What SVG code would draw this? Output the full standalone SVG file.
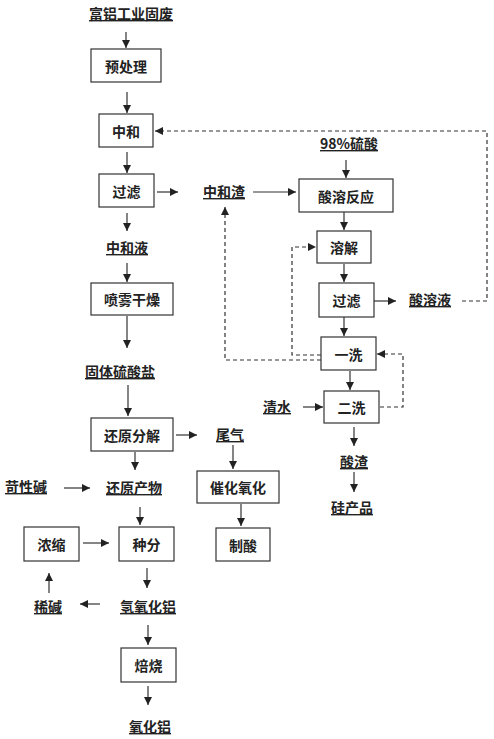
<svg xmlns="http://www.w3.org/2000/svg" width="494" height="739" viewBox="0 0 494 739">
<defs>
<marker id="ah" markerUnits="userSpaceOnUse" markerWidth="8" markerHeight="8" refX="8" refY="4" orient="auto">
<path d="M0,0 L8,4 L0,8 z" fill="#222"/>
</marker>
<style>
text{font-family:"Noto Sans CJK SC","Liberation Sans",sans-serif;font-size:14px;font-weight:bold;fill:#222;text-anchor:middle}
.lbl{text-decoration:underline}
.box rect{fill:#fff;stroke:#333;stroke-width:1.2}
.box text{dominant-baseline:central}
#connectors path{fill:none;stroke:#333;stroke-width:1.2;marker-end:url(#ah)}
#connectors path.d{stroke-dasharray:4 3}
</style>
</defs>
<rect width="494" height="739" fill="#fff"/>
<g id="connectors">
<path d="M126,32 V48"/>
<path d="M127,92 V113"/>
<path d="M127,152 V173"/>
<path d="M157,192 H178"/>
<path d="M127,213 V231"/>
<path d="M127,263 V282"/>
<path d="M127,316 V348"/>
<path d="M128,385 V416"/>
<path d="M176,435 H197"/>
<path d="M135,452 V470"/>
<path d="M64,488 H90"/>
<path d="M140,507 V525"/>
<path d="M83,543 H109"/>
<path d="M147,568 V588"/>
<path d="M100,604 H80"/>
<path d="M49,593 V573"/>
<path d="M148,625 V645"/>
<path d="M148,686 V705"/>
<path d="M233,445 V469"/>
<path d="M241,504 V526"/>
<path d="M346,160 V178"/>
<path d="M253,192 H296"/>
<path d="M344,212 V230"/>
<path d="M344,264 V282"/>
<path d="M374,301 H396"/>
<path d="M344,317 V336"/>
<path d="M350,371 V390"/>
<path d="M303,407 H323"/>
<path d="M354,427 V446"/>
<path d="M354,472 V492"/>
<path class="d" d="M462,301 H487 V131 H155"/>
<path class="d" d="M321,355 H292 V247 H316"/>
<path class="d" d="M321,360 H225 V207"/>
<path class="d" d="M380,407 H403 V354 H377"/>
</g>
<g id="n-fulv"><text class="lbl" x="131" y="19">富铝工业固废</text></g>
<g id="n-yuchuli" class="box"><rect x="91" y="49" width="70" height="33"/><text x="126" y="65.5">预处理</text></g>
<g id="n-zhonghe" class="box"><rect x="99" y="114" width="54" height="33"/><text x="126" y="130.5">中和</text></g>
<g id="n-guolv1" class="box"><rect x="99" y="174" width="55" height="33"/><text x="126.5" y="190.5">过滤</text></g>
<g id="n-zhonghezha"><text class="lbl" x="224" y="197">中和渣</text></g>
<g id="n-zhongheye"><text class="lbl" x="127" y="253">中和液</text></g>
<g id="n-penwu" class="box"><rect x="91" y="283" width="82" height="32"/><text x="132" y="299">喷雾干燥</text></g>
<g id="n-guti"><text class="lbl" x="120" y="377">固体硫酸盐</text></g>
<g id="n-huanyuan" class="box"><rect x="91" y="418" width="82" height="33"/><text x="132" y="434.5">还原分解</text></g>
<g id="n-weiqi"><text class="lbl" x="230" y="440">尾气</text></g>
<g id="n-kexingjian"><text class="lbl" x="26" y="492">苛性碱</text></g>
<g id="n-huanyuanchanwu"><text class="lbl" x="134" y="493">还原产物</text></g>
<g id="n-cuihua" class="box"><rect x="197" y="471" width="82" height="32"/><text x="238" y="487">催化氧化</text></g>
<g id="n-zhisuan" class="box"><rect x="216" y="528" width="54" height="33"/><text x="243" y="544.5">制酸</text></g>
<g id="n-zhongfen" class="box"><rect x="119" y="527" width="55" height="34"/><text x="146.5" y="544">种分</text></g>
<g id="n-nongsuo" class="box"><rect x="24" y="527" width="55" height="34"/><text x="51.5" y="544">浓缩</text></g>
<g id="n-qingyanghualv"><text class="lbl" x="148" y="612">氢氧化铝</text></g>
<g id="n-xijian"><text class="lbl" x="48" y="612">稀碱</text></g>
<g id="n-beishao" class="box"><rect x="121" y="648" width="55" height="34"/><text x="148.5" y="665">焙烧</text></g>
<g id="n-yanghualv"><text class="lbl" x="150" y="732">氧化铝</text></g>
<g id="n-liusuan"><text class="lbl" x="349" y="149">98%硫酸</text></g>
<g id="n-suanrong" class="box"><rect x="299" y="179" width="94" height="33"/><text x="346" y="195.5">酸溶反应</text></g>
<g id="n-rongjie" class="box"><rect x="317" y="231" width="54" height="32"/><text x="344" y="247">溶解</text></g>
<g id="n-guolv2" class="box"><rect x="319" y="283" width="55" height="34"/><text x="346.5" y="300">过滤</text></g>
<g id="n-suanrongye"><text class="lbl" x="430" y="305">酸溶液</text></g>
<g id="n-yixi" class="box"><rect x="321" y="337" width="55" height="33"/><text x="348.5" y="353.5">一洗</text></g>
<g id="n-erxi" class="box"><rect x="324" y="391" width="55" height="32"/><text x="351.5" y="407">二洗</text></g>
<g id="n-qingshui"><text class="lbl" x="277" y="412">清水</text></g>
<g id="n-suanzha"><text class="lbl" x="354" y="467">酸渣</text></g>
<g id="n-guichanpin"><text class="lbl" x="352" y="513">硅产品</text></g>
</svg>
